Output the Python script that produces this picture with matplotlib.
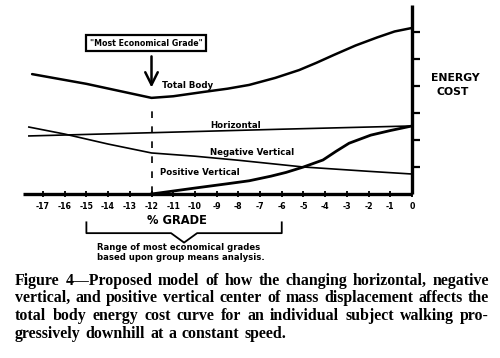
import matplotlib
matplotlib.use("Agg")
import matplotlib.pyplot as plt

# ---------------- data ----------------
grade_ticks = list(range(-17, 1))
energy_ticks = [1, 2, 3, 4, 5, 6]

total_x = [-17.5, -15.0, -12.0, -11.0, -9.6, -8.5, -7.5, -6.3, -5.2, -4.4, -3.6, -2.6, -1.6, -0.8, 0.0]
total_y = [4.44, 4.08, 3.56, 3.62, 3.78, 3.90, 4.04, 4.30, 4.59, 4.86, 5.15, 5.50, 5.80, 6.02, 6.15]

horiz_x = [-17.65, -12.0, -6.0, 0.0]
horiz_y = [2.15, 2.27, 2.40, 2.52]

negv_x = [-17.65, -16.0, -14.0, -12.0, -10.0, -8.0, -5.0, -2.0, 0.0]
negv_y = [2.48, 2.22, 1.85, 1.52, 1.40, 1.25, 1.00, 0.84, 0.74]

posv_x = [-12.0, -10.0, -8.5, -7.5, -6.5, -5.8, -5.0, -4.1, -3.5, -2.9, -1.9, -1.0, 0.0]
posv_y = [0.0, 0.22, 0.38, 0.49, 0.66, 0.80, 1.00, 1.26, 1.58, 1.88, 2.18, 2.35, 2.52]

best_grade = -12
range_lo, range_hi = -15, -6

caption_lines = [
    "Figure 4\u2014Proposed model of how the changing horizontal, negative",
    "vertical, and positive vertical center of mass displacement affects the",
    "total body energy cost curve for an individual subject walking pro-",
    "gressively downhill at a constant speed.",
]

# ---------------- figure ----------------
W, H = 500, 358
fig = plt.figure(figsize=(W / 100, H / 100), dpi=100)
fig.patch.set_facecolor("white")

def fx(px):
    return px / W

def fy(py):
    return 1 - py / H

x_left, x_right, y_bot, y_top = 23, 412, 194, 5
ax = fig.add_axes([fx(x_left), fy(y_bot), (x_right - x_left) / W, (y_bot - y_top) / H])
ax.set_xlim(-17.92, 0)
ax.set_ylim(0, 7.0)
ax.patch.set_alpha(0)
for s in ["top", "left"]:
    ax.spines[s].set_visible(False)
for s in ["bottom", "right"]:
    ax.spines[s].set_linewidth(2.4)
    ax.spines[s].set_capstyle("butt")

lab_font = dict(family="DejaVu Sans", weight="bold")

ax.set_xticks(grade_ticks)
ax.set_xticklabels([str(g) for g in grade_ticks], fontsize=5.7, **lab_font)
ax.tick_params(axis="x", direction="inout", length=5, width=1.3, pad=3)
ax.yaxis.tick_right()
ax.set_yticks(energy_ticks)
ax.set_yticklabels([])
ax.tick_params(axis="y", direction="out", length=6, width=1.6, right=True, left=False)

lw_c = "black"
ax.plot(total_x, total_y, color=lw_c, lw=1.8, solid_capstyle="round")
ax.plot(horiz_x, horiz_y, color=lw_c, lw=1.2)
ax.plot(negv_x, negv_y, color=lw_c, lw=1.2)
ax.plot(posv_x, posv_y, color=lw_c, lw=2.0)

# dashed line at most economical grade
ax.plot([best_grade, best_grade], [0.05, 3.2], color="black", lw=1.2,
        dashes=(4, 5))

# curve labels
tsz = 6.2
ax.text(-11.5, 4.0, "Total Body", fontsize=tsz, va="center", **lab_font)
ax.text(-9.3, 2.55, "Horizontal", fontsize=tsz, va="center", **lab_font)
ax.text(-9.3, 1.52, "Negative Vertical", fontsize=tsz, va="center", **lab_font)
ax.text(-11.6, 0.78, "Positive Vertical", fontsize=tsz, va="center", **lab_font)

# "Most Economical Grade" box + arrow
ax.annotate("", xy=(best_grade, 3.84), xytext=(best_grade, 5.2),
            arrowprops=dict(arrowstyle="->,head_length=0.9,head_width=0.45",
                            lw=1.8, color="black"))
fig.text(fx(146), fy(43), "\"Most Economical Grade\"", fontsize=5.7, ha="center",
         va="center", **lab_font,
         bbox=dict(boxstyle="square,pad=0.45", fc="white", ec="black", lw=1.6))

# axis labels
fig.text(fx(455), fy(78), "ENERGY", fontsize=7.8, ha="center", va="center", **lab_font)
fig.text(fx(453), fy(92), "COST", fontsize=7.8, ha="center", va="center", **lab_font)
fig.text(fx(177), fy(220), "% GRADE", fontsize=8.3, ha="center", va="center",
         family="DejaVu Sans", weight="bold")

# bracket for range of most economical grades
yb_top, yb_mid, yb_tip = -1.05, -1.45, -1.8
mid = (range_lo + range_hi) / 2
bx = [range_lo, range_lo, mid - 0.6, mid, mid + 0.6, range_hi, range_hi]
by = [yb_top, yb_mid, yb_mid, yb_tip, yb_mid, yb_mid, yb_top]
ax.plot(bx, by, color="black", lw=1.3, clip_on=False)

fig.text(fx(97), fy(248), "Range of most economical grades", fontsize=6.1,
         ha="left", va="center", **lab_font)
fig.text(fx(97), fy(258), "based upon group means analysis.", fontsize=6.1,
         ha="left", va="center", **lab_font)

# caption, justified
renderer = fig.canvas.get_renderer()
cap_font = dict(family="Liberation Serif", weight="bold", fontsize=11.4)
x0, x1 = 15, 489
line_y = [281, 298, 316, 334]

def word_width(w):
    t = fig.text(0, 0, w, **cap_font)
    wd = t.get_window_extent(renderer).width
    t.remove()
    return wd

for i, (line, py) in enumerate(zip(caption_lines, line_y)):
    words = line.split(" ")
    widths = [word_width(w) for w in words]
    if i < len(caption_lines) - 1 and len(words) > 1:
        gap = (x1 - x0 - sum(widths)) / (len(words) - 1)
    else:
        gap = word_width("a b") - word_width("ab") + 1.0
    x = x0
    for w, wd in zip(words, widths):
        fig.text(fx(x), fy(py), w, ha="left", va="center", **cap_font)
        x += wd + gap

fig.savefig("out.png", dpi=100, facecolor="white")
